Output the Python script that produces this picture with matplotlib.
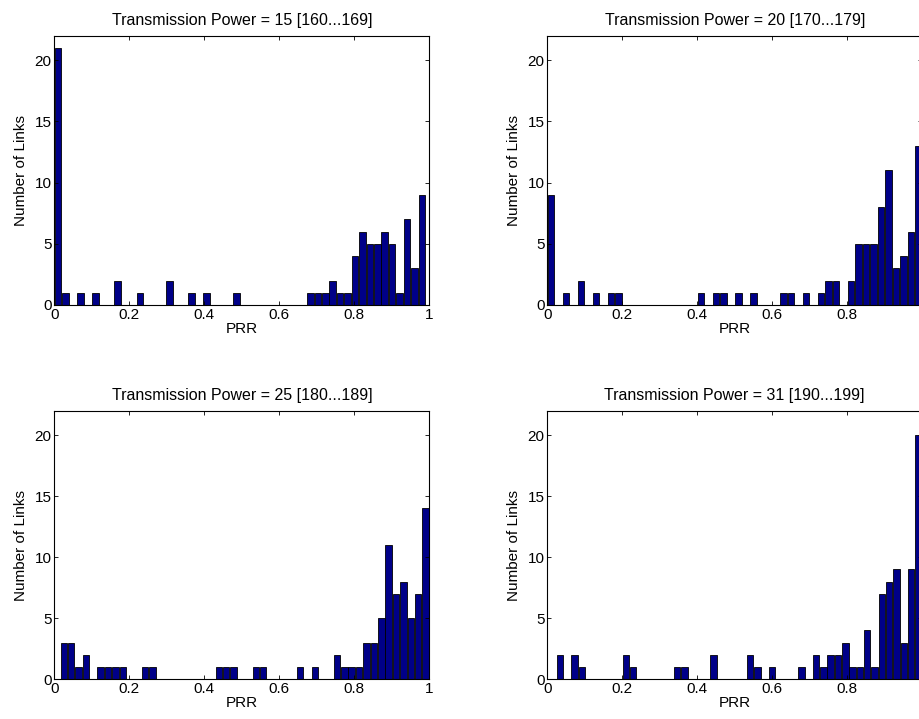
import numpy as np
import matplotlib
matplotlib.use('Agg')
import matplotlib.pyplot as plt

plt.rcParams['font.family'] = ['Liberation Sans', 'DejaVu Sans']

# bin counts (50 bins per panel)
titles = ['Transmission Power = 15 [160...169]',
          'Transmission Power = 20 [170...179]',
          'Transmission Power = 25 [180...189]',
          'Transmission Power = 31 [190...199]']

tp15 = [21, 1, 0, 1, 0, 1, 0, 0, 2, 0,
        0, 1, 0, 0, 0, 2, 0, 0, 1, 0,
        1, 0, 0, 0, 1, 0, 0, 0, 0, 0,
        0, 0, 0, 0, 1, 1, 1, 2, 1, 1,
        4, 6, 5, 5, 6, 5, 1, 7, 3, 9]
tp20 = [9, 0, 1, 0, 2, 0, 1, 0, 1, 1,
        0, 0, 0, 0, 0, 0, 0, 0, 0, 0,
        1, 0, 1, 1, 0, 1, 0, 1, 0, 0,
        0, 1, 1, 0, 1, 0, 1, 2, 2, 0,
        2, 5, 5, 5, 8, 11, 3, 4, 6, 13]
tp25 = [3, 3, 1, 2, 0, 1, 1, 1, 1, 0,
        0, 1, 1, 0, 0, 0, 0, 0, 0, 0,
        0, 1, 1, 1, 0, 0, 1, 1, 0, 0,
        0, 0, 1, 0, 1, 0, 0, 2, 1, 1,
        1, 3, 3, 5, 11, 7, 8, 5, 7, 14]
tp31 = [2, 0, 2, 1, 0, 0, 0, 0, 0, 2,
        1, 0, 0, 0, 0, 0, 1, 1, 0, 0,
        0, 2, 0, 0, 0, 0, 2, 1, 0, 1,
        0, 0, 0, 1, 0, 2, 1, 2, 2, 3,
        1, 1, 4, 1, 7, 8, 9, 3, 9, 20]

# PRR range covered by the bins of each panel (min, max of the data)
ranges = [(0.0, 0.99), (0.0, 1.0), (0.015, 1.0), (0.024, 1.0)]
counts = [tp15, tp20, tp25, tp31]

fig = plt.figure(figsize=(9.2, 7.19), dpi=100)

# axes positions (right column runs off the figure edge like the original)
positions = [[0.0592, 0.5758, 0.4074, 0.3745],
             [0.5949, 0.5758, 0.4074, 0.3745],
             [0.0592, 0.0552, 0.4074, 0.3736],
             [0.5949, 0.0552, 0.4074, 0.3736]]

for pos, title, cnt, (lo, hi) in zip(positions, titles, counts, ranges):
    ax = fig.add_axes(pos)
    nb = len(cnt)
    w = (hi - lo) / nb
    centers = lo + w * (np.arange(nb) + 0.5)
    cnt = np.array(cnt)
    m = cnt > 0
    ax.bar(centers[m], cnt[m], width=w * 0.88, color='#000088',
           edgecolor='black', linewidth=0.6)
    ax.set_xlim(0, 1)
    ax.set_ylim(0, 22)
    ax.set_xticks([0, 0.2, 0.4, 0.6, 0.8, 1])
    ax.set_xticklabels(['0', '0.2', '0.4', '0.6', '0.8', '1'])
    ax.set_yticks([0, 5, 10, 15, 20])
    ax.tick_params(direction='in', length=2.7, width=0.6, labelsize=11,
                   top=True, right=True, pad=2)
    for s in ax.spines.values():
        s.set_linewidth(0.8)
    ax.set_title(title, fontsize=11.5, pad=8)
    ax.set_xlabel('PRR', fontsize=11, labelpad=0)
    ax.set_ylabel('Number of Links', fontsize=11, labelpad=5)

fig.savefig('out.png', dpi=100)
